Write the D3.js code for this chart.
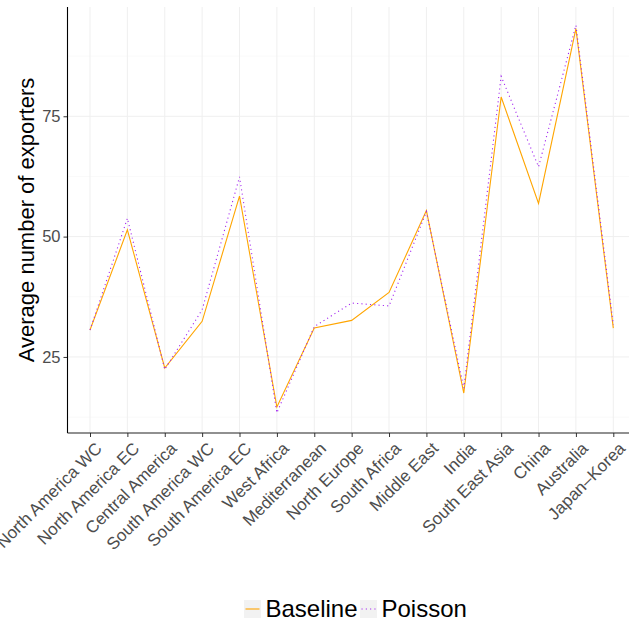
<!DOCTYPE html>
<html>
<head>
<meta charset="utf-8">
<script src="https://cdn.jsdelivr.net/npm/d3@7/dist/d3.min.js"></script>
<style>
  html, body { margin: 0; padding: 0; background: #fff; }
  svg { display: block; font-family: "Liberation Sans", Arial, sans-serif; }
</style>
</head>
<body>
<svg id="chart" width="629" height="623"></svg>
<script>
const categories = ["North America WC", "North America EC", "Central America", "South America WC",
  "South America EC", "West Africa", "Mediterranean", "North Europe", "South Africa",
  "Middle East", "India", "South East Asia", "China", "Australia", "Japan\u2013Korea"];
const baseline = [30.6, 51.4, 22.7, 32.4, 58.4, 14.6, 31.0, 32.6, 38.4, 55.4, 17.5, 79.0, 56.9, 93.2, 31.0];
const poisson  = [30.6, 53.8, 22.4, 34.8, 62.4, 13.4, 31.3, 36.2, 35.6, 55.2, 18.5, 83.3, 64.5, 93.9, 31.7];
const yTicks = [25, 50, 75];
const seriesNames = ["Baseline", "Poisson"];

const svg = d3.select("#chart");
const panel = { left: 67.5, top: 7, right: 636, bottom: 433 };

const x = d3.scalePoint().domain(categories).range([90, 613.3]);
const y = d3.scaleLinear().domain([9.2, 97.7]).range([panel.bottom, panel.top]);

const g = svg.append("g");

// grid
const minor = [];
for (let i = 0; i < yTicks.length + 1; i++) minor.push(yTicks[0] - 12.5 + 25 * i);
g.selectAll(".minor").data(minor).enter().append("line")
  .attr("x1", panel.left).attr("x2", panel.right)
  .attr("y1", d => y(d)).attr("y2", d => y(d))
  .attr("stroke", "#f5f5f5").attr("stroke-width", 0.6);
g.selectAll(".major").data(yTicks).enter().append("line")
  .attr("x1", panel.left).attr("x2", panel.right)
  .attr("y1", d => y(d)).attr("y2", d => y(d))
  .attr("stroke", "#efefef").attr("stroke-width", 1);
g.selectAll(".vgrid").data(categories).enter().append("line")
  .attr("x1", d => x(d)).attr("x2", d => x(d))
  .attr("y1", panel.top).attr("y2", panel.bottom)
  .attr("stroke", "#efefef").attr("stroke-width", 1);

// lines
const line = d3.line().x((d, i) => x(categories[i])).y(d => y(d));
g.append("path").datum(baseline).attr("d", line)
  .attr("fill", "none").attr("stroke", "#FFA500").attr("stroke-width", 1.1);
g.append("path").datum(poisson).attr("d", line)
  .attr("fill", "none").attr("stroke", "#A020F0").attr("stroke-width", 1.1)
  .attr("stroke-dasharray", "1.1,3.2");

// axes
const yAxis = d3.axisLeft(y).tickValues(yTicks).tickSize(4).tickPadding(3);
const ya = svg.append("g").attr("transform", `translate(${panel.left},0)`).call(yAxis);
ya.select(".domain").remove();
ya.selectAll(".tick line").attr("stroke", "#333");
ya.selectAll("text").attr("fill", "#4d4d4d").style("font-size", "16.5px");
svg.append("line").attr("x1", panel.left).attr("x2", panel.left)
  .attr("y1", panel.top).attr("y2", panel.bottom).attr("stroke", "#000").attr("stroke-width", 1.1);

const xAxis = d3.axisBottom(x).tickSize(4).tickPadding(3);
const xa = svg.append("g").attr("transform", `translate(0,${panel.bottom})`).call(xAxis);
xa.select(".domain").remove();
xa.selectAll(".tick line").attr("stroke", "#333");
xa.selectAll("text")
  .attr("fill", "#4d4d4d").style("font-size", "17px")
  .attr("text-anchor", "end").attr("dy", null).attr("y", null)
  .attr("transform", "translate(4,8) rotate(-45)")
  .attr("dominant-baseline", "hanging");
svg.append("line").attr("x1", panel.left).attr("x2", panel.right)
  .attr("y1", panel.bottom).attr("y2", panel.bottom).attr("stroke", "#222").attr("stroke-width", 1.1);

// y title
svg.append("text").attr("transform", `translate(34,${(panel.top + panel.bottom) / 2}) rotate(-90)`)
  .attr("text-anchor", "middle").style("font-size", "22px").attr("fill", "#000")
  .text("Average number of exporters");

// legend
const legend = svg.append("g").attr("transform", "translate(244,600)");
const keyStyles = [
  { color: "#FFA500", dash: null },
  { color: "#A020F0", dash: "1.1,3.2" }
];
const offsets = [0, 116];
seriesNames.forEach((name, i) => {
  const lg = legend.append("g").attr("transform", `translate(${offsets[i]},0)`);
  lg.append("rect").attr("width", 17).attr("height", 18).attr("fill", "#f2f2f2");
  lg.append("line").attr("x1", 1.5).attr("x2", 15.5).attr("y1", 9).attr("y2", 9)
    .attr("stroke", keyStyles[i].color).attr("stroke-width", 1.1)
    .attr("stroke-dasharray", keyStyles[i].dash);
  lg.append("text").attr("x", 21.5).attr("y", 17).style("font-size", "24px").attr("fill", "#000").text(name);
});
</script>
</body>
</html>
